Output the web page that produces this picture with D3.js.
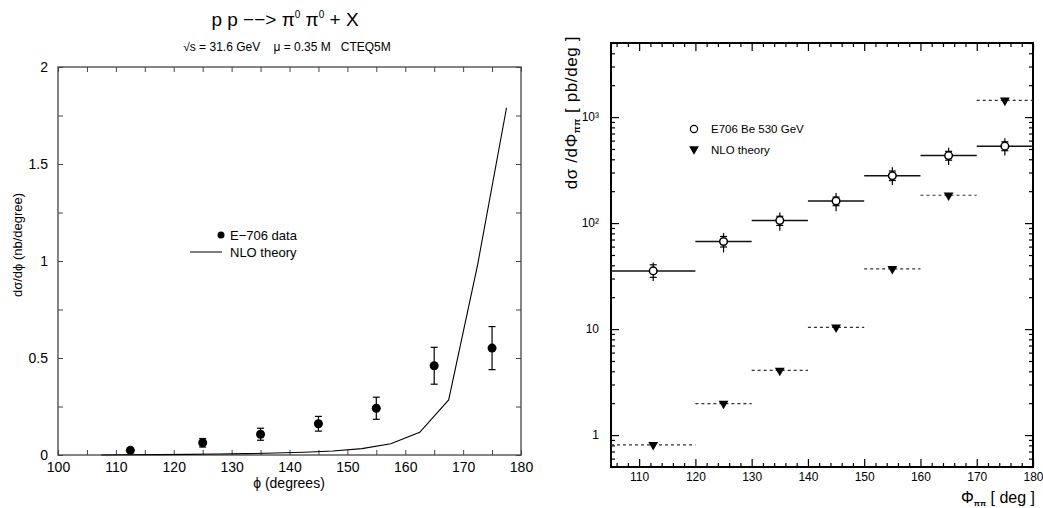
<!DOCTYPE html>
<html>
<head>
<meta charset="utf-8">
<title>pp -> pi0 pi0 + X</title>
<script src="https://d3js.org/d3.v7.min.js"></script>
<style>
  body { margin: 0; background: #fff; }
  text { font-family: "Liberation Sans", Arial, sans-serif; fill: #000; }
</style>
</head>
<body>
<script>
// ---- left panel: E-706 data vs NLO theory (linear) ----
var e706Phi = [112.5, 125, 135, 145, 155, 165, 175]
var e706Val = [0.024, 0.063, 0.107, 0.161, 0.241, 0.46, 0.551]
var e706Err = [0.004, 0.022, 0.031, 0.038, 0.057, 0.095, 0.111]
var nloPhi = [107.5, 112.5, 117.5, 122.5, 127.5, 132.5, 137.5, 142.5, 147.5, 152.5, 157.5, 162.5, 167.5, 172.5, 177.5]
var nloVal = [0.0, 0.001, 0.002, 0.003, 0.005, 0.007, 0.01, 0.014, 0.021, 0.033, 0.058, 0.117, 0.284, 0.98, 1.79]
var leftXTicks = [100, 110, 120, 130, 140, 150, 160, 170, 180]
var leftYTicks = [0, 0.5, 1, 1.5, 2]

// ---- right panel: E706 Be 530 GeV vs NLO theory (log) ----
var binLo = [105, 120, 130, 140, 150, 160, 170]
var binHi = [120, 130, 140, 150, 160, 170, 180]
var binMid = [112.5, 125, 135, 145, 155, 165, 175]
var beVal = [35.4, 67.1, 106, 161.5, 280, 433, 532]
var beTotHi = [42.5, 80.4, 126, 192, 336, 513, 632]
var beTotLo = [28.4, 52.8, 84.5, 129, 229, 354, 433]
var beStatHi = [40.4, 74.8, 116, 176, 310, 475, 585]
var beStatLo = [30.8, 59.5, 95, 146, 252, 392, 482]
var thVal = [0.81, 1.98, 4.07, 10.4, 37.0, 183, 1435]
var rightXTicks = [110, 120, 130, 140, 150, 160, 170, 180]
var rightYTicks = [1, 10, 100, 1000]
var rightYLabels = ["1", "10", "10\u00b2", "10\u00b3"]

var svg = d3.select("body").append("svg").attr("width", 1043).attr("height", 508)

// ================= left =================
var xL = d3.scaleLinear().domain([100, 180]).range([58, 521])
var yL = d3.scaleLinear().domain([0, 2]).range([455, 67])
var gl = svg.append("g")
var frameCol = "#444"

gl.append("g").attr("transform", "translate(0,455)")
  .call(d3.axisBottom(xL).tickValues(d3.range(100, 181, 5)).tickSize(-5).tickPadding(7)
    .tickFormat(function(d){ return leftXTicks.indexOf(d) >= 0 ? d : "" }))
gl.append("g").attr("transform", "translate(0,67)")
  .call(d3.axisTop(xL).tickValues(d3.range(100, 181, 5)).tickSize(-5).tickFormat(""))
gl.append("g").attr("transform", "translate(58,0)")
  .call(d3.axisLeft(yL).tickValues(d3.range(0, 2.01, 0.25)).tickSize(-5).tickPadding(10)
    .tickFormat(function(d){ return leftYTicks.indexOf(d) >= 0 ? d3.format("~g")(d) : "" }))
gl.append("g").attr("transform", "translate(521,0)")
  .call(d3.axisRight(yL).tickValues(d3.range(0, 2.01, 0.25)).tickSize(-5).tickFormat(""))
gl.selectAll(".domain").remove()
gl.selectAll(".tick line").attr("stroke", frameCol)
gl.selectAll(".tick text").attr("font-size", 14).attr("font-family", "Liberation Sans, Arial, sans-serif").attr("fill", "#000")
gl.append("rect").attr("x", 58).attr("y", 67).attr("width", 521 - 58).attr("height", 455 - 67)
  .attr("fill", "none").attr("stroke", frameCol).attr("stroke-width", 1.3)

// theory line
var lineL = d3.line().x(function(d){ return xL(d[0]) }).y(function(d){ return yL(d[1]) })
gl.append("path").datum(d3.zip(nloPhi, nloVal)).attr("d", lineL)
  .attr("fill", "none").attr("stroke", "#000").attr("stroke-width", 1.1)

// data with error bars
var ptsL = d3.range(e706Phi.length)
gl.selectAll(".eb").data(ptsL).enter().append("line")
  .attr("x1", function(i){ return xL(e706Phi[i]) }).attr("x2", function(i){ return xL(e706Phi[i]) })
  .attr("y1", function(i){ return yL(e706Val[i] + e706Err[i]) })
  .attr("y2", function(i){ return yL(e706Val[i] - e706Err[i]) })
  .attr("stroke", "#000").attr("stroke-width", 1.2)
;[1, -1].forEach(function(s){
  gl.selectAll(".cap" + s).data(ptsL).enter().append("line")
    .attr("x1", function(i){ return xL(e706Phi[i]) - 3.5 }).attr("x2", function(i){ return xL(e706Phi[i]) + 3.5 })
    .attr("y1", function(i){ return yL(e706Val[i] + s * e706Err[i]) })
    .attr("y2", function(i){ return yL(e706Val[i] + s * e706Err[i]) })
    .attr("stroke", "#000").attr("stroke-width", 1.2)
})
gl.selectAll(".dot").data(ptsL).enter().append("circle")
  .attr("cx", function(i){ return xL(e706Phi[i]) }).attr("cy", function(i){ return yL(e706Val[i]) })
  .attr("r", 4.5).attr("fill", "#000")

// legend
gl.append("circle").attr("cx", 221).attr("cy", 235).attr("r", 3.5).attr("fill", "#000")
gl.append("text").attr("x", 230).attr("y", 240).attr("font-size", 13).text("E\u2212706 data")
gl.append("line").attr("x1", 190).attr("x2", 222).attr("y1", 252).attr("y2", 252).attr("stroke", "#000")
gl.append("text").attr("x", 230).attr("y", 257).attr("font-size", 13).text("NLO theory")

// titles
var t = gl.append("text").attr("x", 285).attr("y", 26).attr("text-anchor", "middle").attr("font-size", 19)
t.append("tspan").text("p p \u2212\u2212> \u03c0")
t.append("tspan").attr("font-size", 10).attr("dy", -8).text("0")
t.append("tspan").attr("dy", 8).text(" \u03c0")
t.append("tspan").attr("font-size", 10).attr("dy", -8).text("0")
t.append("tspan").attr("dy", 8).text(" + X")
gl.append("text").attr("x", 287).attr("y", 51).attr("text-anchor", "middle").attr("font-size", 12)
  .attr("xml:space", "preserve").text("\u221as = 31.6 GeV    \u03bc = 0.35 M   CTEQ5M")
gl.append("text").attr("x", 289).attr("y", 488).attr("text-anchor", "middle").attr("font-size", 14)
  .text("\u03d5 (degrees)")
gl.append("text").attr("transform", "translate(22,245) rotate(-90)").attr("text-anchor", "middle")
  .attr("font-size", 13).text("d\u03c3/d\u03d5 (nb/degree)")

// ================= right =================
var xR = d3.scaleLinear().domain([105, 180]).range([611, 1033])
var yR = d3.scaleLog().domain([0.5, 5000]).range([467, 43])
var gr = svg.append("g")

var minorX = d3.range(106, 180, 2).filter(function(d){ return d % 10 !== 0 })
var minorY = []
;[0.1, 1, 10, 100, 1000].forEach(function(dec){
  d3.range(2, 10).forEach(function(k){
    var v = k * dec
    if (v >= 0.5 && v <= 5000) minorY.push(v)
  })
})

function ax(gen, tr, vals, size, fmt, pad) {
  var a = gen.tickValues(vals).tickSize(size).tickFormat(fmt)
  if (pad) a.tickPadding(pad)
  gr.append("g").attr("transform", tr).call(a)
}
ax(d3.axisBottom(xR), "translate(0,467)", rightXTicks, -8, d3.format("d"), 5)
ax(d3.axisBottom(xR), "translate(0,467)", minorX, -4, "")
ax(d3.axisTop(xR), "translate(0,43)", rightXTicks, -8, "")
ax(d3.axisTop(xR), "translate(0,43)", minorX, -4, "")
ax(d3.axisLeft(yR), "translate(611,0)", rightYTicks, -8, function(d, i){ return rightYLabels[i] }, 12)
ax(d3.axisLeft(yR), "translate(611,0)", minorY, -4, "")
ax(d3.axisRight(yR), "translate(1033,0)", rightYTicks, -8, "")
ax(d3.axisRight(yR), "translate(1033,0)", minorY, -4, "")
gr.selectAll(".domain").remove()
gr.selectAll(".tick line").attr("stroke", "#000").attr("stroke-width", 1.2)
gr.selectAll(".tick text").attr("font-size", 12).attr("font-family", "Liberation Sans, Arial, sans-serif").attr("fill", "#000")
gr.append("rect").attr("x", 611).attr("y", 43).attr("width", 1033 - 611).attr("height", 467 - 43)
  .attr("fill", "none").attr("stroke", "#000").attr("stroke-width", 2)

var ptsR = d3.range(binMid.length)
// theory: dashed bin lines + down triangles
gr.selectAll(".thl").data(ptsR).enter().append("line")
  .attr("x1", function(i){ return xR(binLo[i]) }).attr("x2", function(i){ return xR(binHi[i]) })
  .attr("y1", function(i){ return yR(thVal[i]) }).attr("y2", function(i){ return yR(thVal[i]) })
  .attr("stroke", "#333").attr("stroke-width", 1.2).attr("stroke-dasharray", "3,3")
var tri = d3.symbol().type(d3.symbolTriangle).size(42)
gr.selectAll(".tht").data(ptsR).enter().append("path").attr("d", tri)
  .attr("transform", function(i){ return "translate(" + xR(binMid[i]) + "," + yR(thVal[i]) + ") rotate(180)" })
  .attr("fill", "#000")

// E706 data: bin bars, error bars, open circles
gr.selectAll(".bb").data(ptsR).enter().append("line")
  .attr("x1", function(i){ return xR(binLo[i]) }).attr("x2", function(i){ return xR(binHi[i]) })
  .attr("y1", function(i){ return yR(beVal[i]) }).attr("y2", function(i){ return yR(beVal[i]) })
  .attr("stroke", "#111").attr("stroke-width", 1.5)
gr.selectAll(".be").data(ptsR).enter().append("line")
  .attr("x1", function(i){ return xR(binMid[i]) }).attr("x2", function(i){ return xR(binMid[i]) })
  .attr("y1", function(i){ return yR(beTotHi[i]) }).attr("y2", function(i){ return yR(beTotLo[i]) })
  .attr("stroke", "#000").attr("stroke-width", 1.2)
;[beStatHi, beStatLo].forEach(function(arr){
  gr.selectAll(null).data(ptsR).enter().append("line")
    .attr("x1", function(i){ return xR(binMid[i]) - 3.5 }).attr("x2", function(i){ return xR(binMid[i]) + 3.5 })
    .attr("y1", function(i){ return yR(arr[i]) }).attr("y2", function(i){ return yR(arr[i]) })
    .attr("stroke", "#000").attr("stroke-width", 1.2)
})
gr.selectAll(".bc").data(ptsR).enter().append("circle")
  .attr("cx", function(i){ return xR(binMid[i]) }).attr("cy", function(i){ return yR(beVal[i]) })
  .attr("r", 3.8).attr("fill", "#fff").attr("stroke", "#000").attr("stroke-width", 1.5)

// legend
gr.append("circle").attr("cx", 694).attr("cy", 129).attr("r", 3.6).attr("fill", "#fff").attr("stroke", "#000").attr("stroke-width", 1.2)
gr.append("text").attr("x", 711).attr("y", 133).attr("font-size", 11.5).text("E706 Be 530 GeV")
gr.append("path").attr("d", tri).attr("transform", "translate(694,149) rotate(180)").attr("fill", "#000")
gr.append("text").attr("x", 711).attr("y", 154).attr("font-size", 11.5).text("NLO theory")

// axis titles
var xt = gr.append("text").attr("x", 1035).attr("y", 503).attr("text-anchor", "end").attr("font-size", 16)
xt.append("tspan").text("\u03a6")
xt.append("tspan").attr("font-size", 8).attr("dy", 3).attr("font-weight", "bold").text("\u03c0\u03c0")
xt.append("tspan").attr("dy", -3).text(" [ deg ]")
var yt = gr.append("text").attr("transform", "translate(577,36) rotate(-90)").attr("text-anchor", "end")
  .attr("font-size", 17).attr("letter-spacing", 0.6)
yt.append("tspan").text("d\u03c3 /d\u03a6")
yt.append("tspan").attr("font-size", 9).attr("dy", 3).attr("font-weight", "bold").text("\u03c0\u03c0")
yt.append("tspan").attr("dy", -3).text(" [ pb/deg ]")
</script>
</body>
</html>
